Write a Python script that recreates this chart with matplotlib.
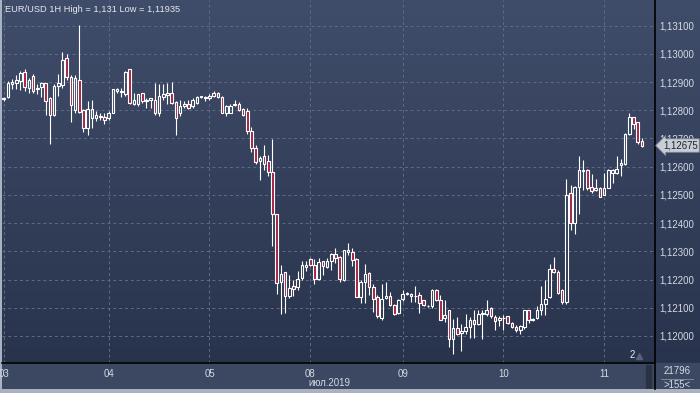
import matplotlib
matplotlib.use("Agg")
import matplotlib.pyplot as plt
import numpy as np
from matplotlib.colors import LinearSegmentedColormap
from matplotlib.transforms import blended_transform_factory
from matplotlib.lines import Line2D

# ---------------- data (EUR/USD 1H candles) ----------------
opens = [1.12840, 1.12848, 1.12893, 1.12898, 1.12904, 1.12935, 1.12880, 1.12921, 1.12874, 1.12883,
         1.12895, 1.12844, 1.12785, 1.12886, 1.12889, 1.12987, 1.12919, 1.12800, 1.12907, 1.12800,
         1.12738, 1.12773, 1.12773, 1.12777, 1.12777, 1.12773, 1.12791, 1.12868, 1.12865, 1.12856,
         1.12945, 1.12821, 1.12824, 1.12862, 1.12834, 1.12838, 1.12838, 1.12789, 1.12848, 1.12853,
         1.12862, 1.12829, 1.12789, 1.12815, 1.12824, 1.12815, 1.12827, 1.12848, 1.12844, 1.12842,
         1.12850, 1.12862, 1.12848, 1.12789, 1.12791, 1.12817, 1.12824, 1.12805, 1.12796, 1.12725,
         1.12666, 1.12619, 1.12639, 1.12619, 1.12580, 1.12433, 1.12190, 1.12225, 1.12142, 1.12178,
         1.12175, 1.12205, 1.12246, 1.12272, 1.12252, 1.12201, 1.12264, 1.12246, 1.12264, 1.12291,
         1.12279, 1.12199, 1.12303, 1.12298, 1.12274, 1.12138, 1.12191, 1.12223, 1.12173, 1.12138,
         1.12065, 1.12136, 1.12140, 1.12108, 1.12081, 1.12132, 1.12150, 1.12150, 1.12140, 1.12144,
         1.12126, 1.12105, 1.12105, 1.12164, 1.12126, 1.12065, 1.12091, 1.11990, 1.12029, 1.12010,
         1.12018, 1.12031, 1.12057, 1.12041, 1.12076, 1.12076, 1.12100, 1.12067, 1.12057, 1.12065,
         1.12069, 1.12046, 1.12031, 1.12020, 1.12031, 1.12091, 1.12057, 1.12065, 1.12093, 1.12112,
         1.12138, 1.12238, 1.12227, 1.12162, 1.12120, 1.12505, 1.12399, 1.12529, 1.12585, 1.12588,
         1.12529, 1.12519, 1.12526, 1.12499, 1.12526, 1.12576, 1.12578, 1.12605, 1.12608, 1.12717,
         1.12776, 1.12759, 1.12691]
highs = [1.12848, 1.12904, 1.12912, 1.12924, 1.12939, 1.12945, 1.12915, 1.12927, 1.12892, 1.12900,
         1.12898, 1.12848, 1.12892, 1.12927, 1.13007, 1.13001, 1.12924, 1.12924, 1.13102, 1.12805,
         1.12833, 1.12836, 1.12797, 1.12791, 1.12791, 1.12797, 1.12876, 1.12880, 1.12880, 1.12939,
         1.12947, 1.12862, 1.12856, 1.12862, 1.12844, 1.12844, 1.12898, 1.12892, 1.12892, 1.12895,
         1.12900, 1.12833, 1.12836, 1.12833, 1.12838, 1.12844, 1.12850, 1.12850, 1.12850, 1.12856,
         1.12868, 1.12865, 1.12850, 1.12817, 1.12821, 1.12838, 1.12829, 1.12809, 1.12808, 1.12741,
         1.12678, 1.12639, 1.12678, 1.12643, 1.12698, 1.12433, 1.12252, 1.12225, 1.12217, 1.12197,
         1.12229, 1.12264, 1.12264, 1.12276, 1.12272, 1.12276, 1.12264, 1.12276, 1.12294, 1.12312,
         1.12282, 1.12306, 1.12330, 1.12313, 1.12276, 1.12197, 1.12256, 1.12227, 1.12185, 1.12144,
         1.12185, 1.12191, 1.12156, 1.12112, 1.12132, 1.12162, 1.12156, 1.12152, 1.12176, 1.12156,
         1.12128, 1.12108, 1.12167, 1.12167, 1.12144, 1.12126, 1.12093, 1.12060, 1.12067, 1.12043,
         1.12079, 1.12067, 1.12093, 1.12091, 1.12093, 1.12126, 1.12102, 1.12073, 1.12069, 1.12073,
         1.12069, 1.12049, 1.12037, 1.12039, 1.12093, 1.12091, 1.12065, 1.12105, 1.12176, 1.12197,
         1.12256, 1.12280, 1.12233, 1.12167, 1.12555, 1.12534, 1.12531, 1.12637, 1.12625, 1.12593,
         1.12573, 1.12555, 1.12529, 1.12578, 1.12593, 1.12593, 1.12637, 1.12629, 1.12720, 1.12791,
         1.12776, 1.12759, 1.12700]
lows = [1.12833, 1.12844, 1.12876, 1.12874, 1.12872, 1.12868, 1.12860, 1.12862, 1.12856, 1.12848,
        1.12782, 1.12682, 1.12779, 1.12850, 1.12880, 1.12907, 1.12759, 1.12789, 1.12789, 1.12724,
        1.12714, 1.12738, 1.12762, 1.12767, 1.12750, 1.12767, 1.12789, 1.12862, 1.12848, 1.12850,
        1.12821, 1.12818, 1.12815, 1.12827, 1.12809, 1.12809, 1.12785, 1.12779, 1.12838, 1.12821,
        1.12821, 1.12714, 1.12779, 1.12809, 1.12805, 1.12809, 1.12824, 1.12844, 1.12833, 1.12836,
        1.12848, 1.12844, 1.12789, 1.12779, 1.12789, 1.12815, 1.12797, 1.12779, 1.12717, 1.12651,
        1.12611, 1.12554, 1.12589, 1.12566, 1.12320, 1.12149, 1.12078, 1.12083, 1.12134, 1.12142,
        1.12164, 1.12199, 1.12229, 1.12249, 1.12185, 1.12197, 1.12217, 1.12240, 1.12235, 1.12258,
        1.12190, 1.12193, 1.12286, 1.12247, 1.12138, 1.12117, 1.12117, 1.12144, 1.12085, 1.12065,
        1.12057, 1.12132, 1.12105, 1.12073, 1.12076, 1.12124, 1.12144, 1.12120, 1.12120, 1.12081,
        1.12105, 1.12102, 1.12100, 1.12124, 1.12055, 1.12049, 1.11960, 1.11935, 1.12002, 1.11946,
        1.12008, 1.11994, 1.11994, 1.12037, 1.11990, 1.12069, 1.12065, 1.12022, 1.12034, 1.12022,
        1.12043, 1.12029, 1.12014, 1.12008, 1.12026, 1.12046, 1.12053, 1.12061, 1.12073, 1.12073,
        1.12136, 1.12223, 1.12147, 1.12114, 1.12114, 1.12375, 1.12363, 1.12434, 1.12519, 1.12517,
        1.12505, 1.12514, 1.12493, 1.12499, 1.12523, 1.12543, 1.12573, 1.12566, 1.12605, 1.12712,
        1.12735, 1.12682, 1.12670]
closes = [1.12842, 1.12895, 1.12900, 1.12906, 1.12933, 1.12883, 1.12909, 1.12868, 1.12880, 1.12895,
          1.12833, 1.12785, 1.12886, 1.12895, 1.12978, 1.12919, 1.12818, 1.12913, 1.12795, 1.12736,
          1.12803, 1.12803, 1.12785, 1.12778, 1.12765, 1.12789, 1.12874, 1.12874, 1.12868, 1.12935,
          1.12827, 1.12836, 1.12856, 1.12833, 1.12838, 1.12842, 1.12789, 1.12850, 1.12856, 1.12862,
          1.12827, 1.12773, 1.12815, 1.12824, 1.12809, 1.12836, 1.12848, 1.12849, 1.12847, 1.12850,
          1.12862, 1.12848, 1.12791, 1.12815, 1.12815, 1.12824, 1.12801, 1.12785, 1.12725, 1.12666,
          1.12615, 1.12631, 1.12611, 1.12580, 1.12433, 1.12187, 1.12220, 1.12140, 1.12169, 1.12167,
          1.12201, 1.12252, 1.12252, 1.12252, 1.12201, 1.12261, 1.12249, 1.12264, 1.12290, 1.12278,
          1.12201, 1.12303, 1.12299, 1.12270, 1.12138, 1.12191, 1.12218, 1.12173, 1.12132, 1.12069,
          1.12132, 1.12140, 1.12108, 1.12079, 1.12128, 1.12150, 1.12151, 1.12140, 1.12141, 1.12117,
          1.12108, 1.12106, 1.12164, 1.12126, 1.12057, 1.12073, 1.11990, 1.12029, 1.12008, 1.12016,
          1.12031, 1.12055, 1.12043, 1.12076, 1.12081, 1.12093, 1.12069, 1.12053, 1.12065, 1.12065,
          1.12046, 1.12031, 1.12022, 1.12034, 1.12091, 1.12057, 1.12061, 1.12093, 1.12112, 1.12132,
          1.12238, 1.12227, 1.12152, 1.12120, 1.12501, 1.12399, 1.12529, 1.12590, 1.12590, 1.12523,
          1.12514, 1.12526, 1.12493, 1.12526, 1.12588, 1.12588, 1.12593, 1.12614, 1.12717, 1.12776,
          1.12750, 1.12688, 1.12675]

day_labels = ["03", "04", "05", "08", "09", "10", "11"]
day_start_idx = [0, 25, 49, 73, 95, 119, 143]
price_ticks = [1.120, 1.121, 1.122, 1.123, 1.124, 1.125, 1.126, 1.127, 1.128, 1.129, 1.130, 1.131]
title_text = "EUR/USD 1H High = 1,131 Low = 1,11935"
month_label = "июл.2019"
bar_count_text = ">155<"
volume_text = "21796"
marker_text = "2"

# ---------------- figure ----------------
W, H = 700, 393
fig = plt.figure(figsize=(W / 100, H / 100), dpi=100, facecolor="#a9b2c2")
FONT = "Liberation Sans"


def px_axes(x0, y0, x1, y1, **kw):
    return fig.add_axes([x0 / W, 1 - y1 / H, (x1 - x0) / W, (y1 - y0) / H], **kw)


# background gradient
bg = px_axes(2, 0, 700, 389)
bg.set_axis_off()
cmap = LinearSegmentedColormap.from_list("bgc", ["#27314a", "#404d6a"])
grad = np.linspace(0, 1, 256).reshape(-1, 1)
bg.imshow(grad, cmap=cmap, aspect="auto", extent=[0, 1, 0, 1], origin="lower")
bg.set_xlim(0, 1)
bg.set_ylim(0, 1)
# bottom axis strip
strip_h = (389 - 363) / 389
bg.add_patch(plt.Rectangle((0, 0), 1, strip_h, color="#3c4862", zorder=2))
# small dark scroll bar in the strip
bg.add_patch(plt.Rectangle(((646 - 2) / 698, 1 / 389), 5 / 698, strip_h - 3 / 389,
                           color="#2a3346", zorder=3))

# main price axes
ax = px_axes(2, 0, 655, 363)
ax.set_facecolor("none")

o = np.array(opens)
h = np.array(highs)
l = np.array(lows)
c = np.array(closes)
x = np.arange(len(o))
up = c >= o
bhi = np.maximum(o, c)
blo = np.minimum(o, c)

ax.vlines(x, bhi, h, color="white", lw=0.8, zorder=3)
ax.vlines(x, l, blo, color="white", lw=0.8, zorder=3)
faces = [(0, 0, 0, 0) if u else "#a3203f" for u in up]
ax.bar(x, bhi - blo, bottom=blo, width=0.62, color=faces, edgecolor="white", lw=0.8, zorder=4)

ax.set_xlim(-0.4, 155.1)
ax.set_ylim(1.11904, 1.13191)

# grid
for p in price_ticks:
    ax.axhline(p, color="#5e6c88", lw=0.7, ls=(0, (3, 3)), zorder=1)
for d in day_start_idx:
    ax.axvline(d, color="#5e6c88", lw=0.7, ls=(0, (3, 3)), zorder=1)

ax.yaxis.tick_right()
ax.set_yticks(price_ticks)
ax.set_yticklabels([f"{p:.5f}".replace(".", ",") for p in price_ticks],
                   fontsize=6.9, color="#d5dbe5", family=FONT)
ax.tick_params(axis="y", length=0, pad=3)
ax.set_xticks(day_start_idx)
ax.set_xticklabels(day_labels, fontsize=6.9, color="#d5dbe5", family=FONT)
ax.tick_params(axis="x", length=0, pad=4)
for s in ["top", "left"]:
    ax.spines[s].set_visible(False)
ax.spines["right"].set_color("black")
ax.spines["bottom"].set_color("black")
ax.spines["right"].set_linewidth(1.2)
ax.spines["bottom"].set_linewidth(1.2)

# title
ax.text(0.004, 0.985, title_text, transform=ax.transAxes, ha="left", va="top",
        fontsize=6.7, color="#e4e8ee", family=FONT)

# last price marker
last = closes[-1]
tr = blended_transform_factory(ax.transAxes, ax.transData)
ax.text(1.012, last, f"{last:.5f}".replace(".", ","), transform=tr, ha="left", va="center",
        fontsize=6.9, color="#1e2430", family=FONT, zorder=10, clip_on=False,
        bbox=dict(boxstyle="larrow,pad=0.18", fc="#c9ced6", ec="#7d8593", lw=0.6))

# "2" marker near bottom right with small triangle
ax.text(149.6, 1.11916, marker_text, ha="center", va="bottom", fontsize=7, color="#e4e8ee",
        family=FONT)
ax.plot([151.4], [1.11930], marker="^", ms=4, color="#56627a", zorder=2)

# vertical separator continuing through bottom strip
fig.add_artist(Line2D([655 / W, 655 / W], [1 - 389 / H, 1 - 363 / H], color="black", lw=1.2))
# month label
fig.text(329 / W, 1 - 383 / H, month_label, ha="center", va="center", fontsize=6.9,
         color="#d5dbe5", family=FONT)
# right-bottom info box
fig.text(677 / W, 1 - 371 / H, volume_text, ha="center", va="center", fontsize=6.9,
         color="#d5dbe5", family=FONT)
fig.add_artist(Line2D([661 / W, 693 / W], [1 - 378.5 / H, 1 - 378.5 / H], color="#8892a4", lw=0.6))
fig.text(677 / W, 1 - 385 / H, bar_count_text, ha="center", va="center", fontsize=6.9,
         color="#d5dbe5", family=FONT)

fig.savefig("out.png", dpi=100, facecolor=fig.get_facecolor())
